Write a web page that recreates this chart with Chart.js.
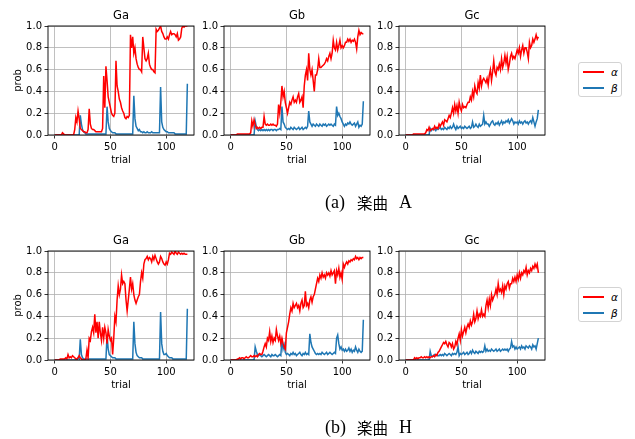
<!DOCTYPE html>
<html>
<head>
<meta charset="utf-8">
<script src="https://cdn.jsdelivr.net/npm/chart.js@4/dist/chart.umd.min.js"></script>
<style>
  body { margin: 0; background: #fff; width: 635px; height: 439px; position: relative; overflow: hidden; }
  canvas { position: absolute; }
  .legend { position: absolute; left: 578px; width: 44px; height: 35px; box-sizing: border-box;
            border: 1px solid #d3d3d3; border-radius: 3px; background: #fff; }
  .legend .ln { position: absolute; left: 4px; width: 21px; height: 1.5px; }
  .legend .tx { position: absolute; left: 32px; font: italic 10.5px "DejaVu Sans"; line-height: 12px; color: #000; }
  .cap { position: absolute; font-family: "Liberation Serif", "DejaVu Serif", serif; font-size: 18px; color: #000; line-height: 20px; }
  .cap.cjk { font-family: "Noto Sans CJK JP"; font-size: 15.5px; }
</style>
</head>
<body>
<canvas id="a-ga" width="200" height="175" style="left:0px;top:0px"></canvas>
<canvas id="a-gb" width="200" height="175" style="left:176px;top:0px"></canvas>
<canvas id="a-gc" width="200" height="175" style="left:351px;top:0px"></canvas>
<canvas id="h-ga" width="200" height="175" style="left:0px;top:225px"></canvas>
<canvas id="h-gb" width="200" height="175" style="left:176px;top:225px"></canvas>
<canvas id="h-gc" width="200" height="175" style="left:351px;top:225px"></canvas>

<div class="legend" style="top:62px">
  <div class="ln" style="top:8px;background:#ff0000"></div><div class="tx" style="top:3px">α</div>
  <div class="ln" style="top:24px;background:#1f77b4"></div><div class="tx" style="top:19px">β</div>
</div>
<div class="legend" style="top:287px">
  <div class="ln" style="top:8px;background:#ff0000"></div><div class="tx" style="top:3px">α</div>
  <div class="ln" style="top:24px;background:#1f77b4"></div><div class="tx" style="top:19px">β</div>
</div>

<span class="cap" style="left:325px;top:192px">(a)</span>
<span class="cap cjk" style="left:357px;top:192px">楽曲</span>
<span class="cap" style="left:399px;top:192px">A</span>
<span class="cap" style="left:325px;top:417px">(b)</span>
<span class="cap cjk" style="left:357px;top:417px">楽曲</span>
<span class="cap" style="left:399px;top:417px">H</span>

<script>
const trials = Array.from({length: 120}, (_, i) => i);
const xTicks = [0, 50, 100];
const yTicks = [0, 0.2, 0.4, 0.6, 0.8, 1.0];
const panelTitles = ['Ga', 'Gb', 'Gc'];
const seriesLabels = ['α', 'β'];
const seriesColors = ['#ff0000', '#1f77b4'];

// (a) 楽曲 A
const aGaAlpha = [
  0,0,0,0,0,0,0,0.02,0.01,0,
  0,0,0,0,0,0,0,0,0.05,0.16,
  0.12,0.22,0.15,0.06,0.05,0.04,0.03,0.03,0.02,0.02,
  0.05,0.24,0.1,0.06,0.05,0.05,0.04,0.03,0.03,0.03,
  0.03,0.03,0.03,0.06,0.54,0.25,0.63,0.5,0.35,0.3,
  0.25,0.2,0.18,0.17,0.2,0.68,0.45,0.4,0.33,0.3,
  0.25,0.22,0.2,0.16,0.15,0.17,0.16,0.18,0.92,0.8,
  0.9,0.75,0.8,0.7,0.65,0.62,0.6,0.6,0.58,0.9,
  0.8,0.7,0.68,0.7,0.75,0.65,0.62,0.6,0.6,0.58,
  0.57,0.97,0.95,0.96,0.98,1.0,0.95,0.93,0.9,0.88,
  0.88,0.9,0.88,0.92,0.95,0.92,0.93,0.93,0.92,0.9,
  0.93,0.87,0.88,0.9,0.98,1.0,0.99,1.0,1.0,1.0
];
const aGaBeta = [
  0,0,0,0,0,0,0,0,0,0,
  0,0,0,0,0,0,0,0,0,0,
  0,0,0,0.18,0.1,0.05,0.03,0.02,0.01,0.01,
  0.01,0.01,0.01,0.01,0.01,0.01,0.01,0.01,0.01,0.01,
  0.01,0.01,0.01,0.01,0.01,0.01,0.01,0.26,0.12,0.06,
  0.04,0.03,0.02,0.02,0.02,0.01,0.01,0.01,0.01,0.01,
  0.01,0.01,0.01,0.01,0.01,0.01,0.01,0.01,0.01,0.01,
  0.01,0.36,0.15,0.08,0.06,0.04,0.05,0.03,0.03,0.02,
  0.03,0.02,0.02,0.03,0.02,0.02,0.02,0.03,0.02,0.02,
  0.02,0.02,0.02,0.02,0.02,0.44,0.12,0.07,0.05,0.04,
  0.03,0.03,0.02,0.02,0.02,0.02,0.02,0.02,0.01,0.01,
  0.01,0.01,0.01,0.01,0.01,0.01,0.01,0.01,0.01,0.47
];
const aGbAlpha = [
  0,0,0,0,0,0,0.01,0.01,0.01,0.01,
  0.01,0.01,0.01,0.01,0.01,0.01,0.01,0.01,0.02,0.13,
  0.08,0.14,0.1,0.06,0.07,0.06,0.07,0.06,0.07,0.07,
  0.17,0.1,0.09,0.1,0.09,0.09,0.1,0.09,0.1,0.09,
  0.09,0.08,0.1,0.28,0.2,0.3,0.45,0.35,0.4,0.3,
  0.25,0.2,0.25,0.3,0.28,0.32,0.35,0.3,0.32,0.3,
  0.35,0.38,0.3,0.32,0.35,0.25,0.45,0.55,0.6,0.5,
  0.75,0.6,0.55,0.6,0.5,0.4,0.55,0.55,0.6,0.7,
  0.62,0.62,0.63,0.64,0.65,0.67,0.7,0.68,0.72,0.75,
  0.7,0.75,0.87,0.8,0.78,0.85,0.78,0.82,0.87,0.8,
  0.82,0.8,0.82,0.85,0.85,0.88,0.86,0.88,0.85,0.87,
  0.86,0.88,0.85,0.79,0.9,0.96,0.92,0.94,0.93,0.93
];
const aGbBeta = [
  0,0,0,0,0,0,0,0,0,0,
  0,0,0,0,0,0,0,0,0,0,
  0,0,0.13,0.08,0.05,0.04,0.05,0.04,0.05,0.04,
  0.05,0.04,0.05,0.04,0.05,0.04,0.05,0.05,0.04,0.05,
  0.05,0.04,0.05,0.05,0.06,0.05,0.26,0.12,0.1,0.07,
  0.06,0.05,0.06,0.05,0.07,0.06,0.05,0.07,0.06,0.05,
  0.06,0.07,0.05,0.06,0.07,0.05,0.06,0.07,0.06,0.08,
  0.22,0.12,0.1,0.08,0.1,0.09,0.08,0.1,0.09,0.08,
  0.1,0.09,0.08,0.1,0.09,0.1,0.08,0.09,0.1,0.09,
  0.1,0.09,0.08,0.1,0.09,0.26,0.18,0.2,0.17,0.15,
  0.12,0.1,0.08,0.1,0.09,0.11,0.1,0.12,0.1,0.09,
  0.1,0.11,0.08,0.1,0.12,0.07,0.09,0.08,0.1,0.31
];
const aGcAlpha = [
  0,0,0,0,0,0,0,0.01,0.01,0.01,
  0.01,0.01,0.01,0.01,0.01,0.01,0.01,0.01,0.02,0.05,
  0.04,0.07,0.04,0.05,0.06,0.05,0.08,0.06,0.07,0.06,
  0.1,0.08,0.1,0.12,0.09,0.14,0.13,0.12,0.15,0.18,
  0.16,0.2,0.25,0.2,0.28,0.22,0.27,0.2,0.3,0.25,
  0.22,0.28,0.25,0.26,0.25,0.28,0.3,0.3,0.35,0.32,
  0.4,0.35,0.45,0.4,0.38,0.48,0.43,0.55,0.45,0.5,
  0.52,0.5,0.48,0.52,0.46,0.55,0.6,0.5,0.58,0.68,
  0.58,0.55,0.62,0.6,0.65,0.6,0.7,0.62,0.66,0.73,
  0.66,0.72,0.6,0.65,0.72,0.75,0.7,0.72,0.7,0.74,
  0.78,0.75,0.8,0.72,0.78,0.82,0.75,0.8,0.8,0.76,
  0.7,0.85,0.8,0.82,0.88,0.85,0.88,0.92,0.88,0.9
];
const aGcBeta = [
  0,0,0,0,0,0,0,0,0,0,
  0,0,0,0,0,0,0,0,0,0,
  0,0,0.06,0.04,0.05,0.06,0.05,0.04,0.06,0.05,
  0.06,0.07,0.05,0.06,0.05,0.07,0.06,0.05,0.07,0.06,
  0.08,0.06,0.07,0.1,0.07,0.05,0.08,0.06,0.07,0.08,
  0.06,0.07,0.06,0.08,0.07,0.06,0.07,0.08,0.06,0.07,
  0.12,0.07,0.08,0.1,0.08,0.07,0.1,0.08,0.09,0.1,
  0.18,0.1,0.12,0.1,0.1,0.08,0.1,0.12,0.13,0.1,
  0.09,0.11,0.1,0.12,0.09,0.11,0.13,0.1,0.12,0.11,
  0.13,0.12,0.14,0.11,0.13,0.15,0.13,0.1,0.12,0.11,
  0.12,0.1,0.13,0.11,0.12,0.1,0.12,0.13,0.11,0.12,
  0.1,0.12,0.13,0.11,0.16,0.12,0.08,0.12,0.15,0.23
];

// (b) 楽曲 H
const hGaAlpha = [
  0,0,0,0,0,0.01,0.01,0.01,0.01,0.01,
  0.02,0.01,0.05,0.02,0.03,0.02,0.04,0.03,0.02,0.01,
  0.01,0.02,0.04,0.02,0.01,0,0,0,0.01,0.09,
  0.02,0.2,0.18,0.26,0.3,0.25,0.42,0.25,0.35,0.2,
  0.35,0.25,0.18,0.3,0.2,0.3,0.25,0.15,0.28,0.22,
  0.18,0.2,0.05,0.2,0.4,0.35,0.55,0.68,0.6,0.65,
  0.78,0.7,0.72,0.7,0.55,0.45,0.55,0.65,0.76,0.65,
  0.7,0.6,0.55,0.52,0.55,0.58,0.6,0.72,0.8,0.75,
  0.88,0.92,0.93,0.95,0.92,0.94,0.93,0.9,0.95,0.92,
  0.96,0.93,0.9,0.88,0.9,0.95,0.93,0.9,0.88,0.87,
  0.9,0.88,0.92,0.98,0.97,0.99,0.98,0.97,1.0,0.98,
  0.97,0.99,0.98,0.97,0.98,0.97,0.98,0.97,0.97,0.97
];
const hGaBeta = [
  0,0,0,0,0,0,0,0,0,0,
  0,0,0,0,0,0,0,0,0,0,
  0,0.02,0.01,0.19,0.05,0.02,0.01,0.01,0.01,0.01,
  0.01,0.01,0.01,0.01,0.01,0.01,0.01,0.01,0.01,0.01,
  0.01,0.01,0.01,0.01,0.01,0.01,0.01,0.23,0.1,0.05,
  0.04,0.03,0.02,0.02,0.02,0.01,0.01,0.01,0.01,0.01,
  0.01,0.01,0.01,0.01,0.01,0.01,0.01,0.01,0.01,0.01,
  0.01,0.35,0.15,0.07,0.04,0.03,0.02,0.02,0.02,0.01,
  0.01,0.01,0.01,0.01,0.01,0.01,0.01,0.01,0.01,0.01,
  0.01,0.01,0.01,0.01,0.01,0.44,0.15,0.08,0.05,0.05,
  0.06,0.04,0.03,0.02,0.02,0.02,0.01,0.01,0.01,0.01,
  0.01,0.01,0.01,0.01,0.01,0.01,0.01,0.01,0.01,0.47
];
const hGbAlpha = [
  0,0,0,0,0,0,0.01,0.01,0.02,0.01,
  0.02,0.02,0.01,0.02,0.03,0.02,0.02,0.03,0.04,0.03,
  0.03,0.04,0.03,0.04,0.03,0.05,0.06,0.05,0.05,0.08,
  0.12,0.15,0.12,0.2,0.18,0.26,0.17,0.22,0.16,0.2,
  0.18,0.28,0.22,0.18,0.22,0.15,0.2,0.15,0.12,0.1,
  0.25,0.3,0.35,0.42,0.48,0.45,0.52,0.48,0.5,0.52,
  0.48,0.5,0.45,0.52,0.55,0.48,0.5,0.63,0.5,0.52,
  0.48,0.55,0.58,0.53,0.58,0.6,0.65,0.7,0.75,0.72,
  0.78,0.75,0.8,0.76,0.78,0.75,0.8,0.78,0.8,0.77,
  0.82,0.78,0.8,0.82,0.7,0.82,0.78,0.84,0.76,0.8,
  0.74,0.88,0.85,0.88,0.9,0.88,0.91,0.9,0.92,0.91,
  0.93,0.92,0.95,0.93,0.94,0.92,0.94,0.93,0.94,0.94
];
const hGbBeta = [
  0,0,0,0,0,0,0,0,0,0,
  0,0,0,0,0,0,0,0,0,0,
  0,0,0.12,0.08,0.05,0.04,0.05,0.04,0.03,0.04,
  0.05,0.04,0.03,0.04,0.05,0.04,0.03,0.05,0.04,0.04,
  0.05,0.04,0.03,0.04,0.05,0.04,0.2,0.1,0.14,0.07,
  0.05,0.06,0.05,0.04,0.06,0.05,0.07,0.05,0.06,0.04,
  0.05,0.06,0.07,0.05,0.04,0.06,0.05,0.07,0.05,0.06,
  0.05,0.24,0.16,0.12,0.1,0.08,0.06,0.05,0.06,0.05,
  0.06,0.05,0.07,0.06,0.05,0.06,0.07,0.05,0.06,0.07,
  0.06,0.05,0.06,0.07,0.06,0.2,0.23,0.15,0.1,0.12,
  0.09,0.1,0.08,0.1,0.08,0.09,0.11,0.08,0.1,0.07,
  0.09,0.08,0.12,0.09,0.07,0.1,0.08,0.07,0.08,0.37
];
const hGcAlpha = [
  0,0,0,0,0,0,0,0,0.02,0.01,
  0.02,0.01,0.02,0.02,0.03,0.02,0.02,0.03,0.02,0.03,
  0.02,0.03,0.02,0.03,0.03,0.04,0.03,0.05,0.04,0.07,
  0.08,0.1,0.12,0.14,0.16,0.15,0.17,0.14,0.12,0.16,
  0.15,0.12,0.15,0.1,0.12,0.17,0.14,0.2,0.24,0.18,
  0.28,0.22,0.26,0.3,0.25,0.3,0.33,0.3,0.36,0.32,
  0.35,0.42,0.35,0.38,0.45,0.38,0.42,0.4,0.46,0.4,
  0.42,0.4,0.5,0.55,0.48,0.56,0.5,0.6,0.55,0.58,
  0.6,0.65,0.6,0.7,0.63,0.65,0.62,0.68,0.6,0.68,
  0.65,0.7,0.72,0.66,0.7,0.7,0.75,0.72,0.76,0.72,
  0.78,0.74,0.8,0.75,0.8,0.78,0.82,0.8,0.85,0.78,
  0.82,0.8,0.84,0.82,0.86,0.84,0.88,0.85,0.88,0.8
];
const hGcBeta = [
  0,0,0,0,0,0,0,0,0,0,
  0,0,0,0,0,0,0,0,0,0,
  0,0,0.08,0.04,0.03,0.04,0.05,0.04,0.05,0.04,
  0.04,0.05,0.04,0.05,0.04,0.06,0.05,0.04,0.05,0.06,
  0.05,0.04,0.06,0.05,0.06,0.05,0.07,0.12,0.04,0.06,
  0.05,0.06,0.07,0.05,0.06,0.07,0.05,0.06,0.08,0.06,
  0.09,0.07,0.06,0.08,0.07,0.06,0.08,0.07,0.08,0.07,
  0.08,0.13,0.08,0.1,0.08,0.09,0.08,0.1,0.09,0.08,
  0.09,0.1,0.08,0.09,0.1,0.08,0.09,0.1,0.09,0.1,
  0.09,0.1,0.08,0.1,0.11,0.17,0.12,0.13,0.1,0.12,
  0.1,0.11,0.12,0.1,0.13,0.11,0.12,0.1,0.13,0.12,
  0.11,0.13,0.12,0.1,0.14,0.12,0.13,0.1,0.15,0.2
];

Chart.defaults.font.family = '"DejaVu Sans"';
Chart.defaults.color = '#000';

// axes frame + panel title (matplotlib style)
const framePlugin = {
  id: 'frame',
  afterDatasetsDraw(chart, args, opts) {
    const {ctx, chartArea: a} = chart;
    ctx.save();
    ctx.strokeStyle = '#000';
    ctx.lineWidth = 0.9;
    ctx.strokeRect(a.left, a.top, a.right - a.left, a.bottom - a.top);
    ctx.fillStyle = '#000';
    ctx.font = '11.5px "DejaVu Sans"';
    ctx.textAlign = 'center';
    ctx.textBaseline = 'middle';
    ctx.fillText(opts.text, (a.left + a.right) / 2, a.top - 10);
    ctx.restore();
  }
};

function makePanel(id, title, alpha, beta, showYLabel) {
  const series = [alpha, beta];
  new Chart(document.getElementById(id), {
    type: 'line',
    data: {
      datasets: series.map((s, k) => ({
        label: seriesLabels[k],
        data: trials.map((t, i) => ({x: t, y: s[i]})),
        borderColor: seriesColors[k],
        borderWidth: 1.5,
        pointRadius: 0,
        tension: 0,
      }))
    },
    options: {
      responsive: false,
      animation: false,
      events: [],
      layout: {padding: {top: 26, right: 6, left: 0, bottom: 0}},
      plugins: {legend: {display: false}, tooltip: {enabled: false}, frame: {text: title}},
      scales: {
        x: {
          type: 'linear',
          min: -5.95,
          max: 124.95,
          afterBuildTicks: axis => { axis.ticks = xTicks.map(v => ({value: v})); },
          afterFit: s => { s.height = 40; },
          ticks: {font: {size: 10}, padding: 2.5, maxRotation: 0, callback: v => String(v)},
          grid: {color: '#b0b0b0', lineWidth: 0.8, tickColor: '#000', tickLength: 3.5},
          border: {display: false},
          title: {display: true, text: 'trial', font: {size: 10}, padding: {top: 0, bottom: 9}},
        },
        y: {
          min: 0,
          max: 1,
          afterBuildTicks: axis => { axis.ticks = yTicks.map(v => ({value: v})); },
          afterFit: s => { s.width = 48; },
          ticks: {font: {size: 10}, padding: 2.5, callback: v => v.toFixed(1)},
          grid: {color: '#b0b0b0', lineWidth: 0.8, tickColor: '#000', tickLength: 3.5},
          border: {display: false},
          title: {display: showYLabel, text: 'prob', font: {size: 10}, padding: {top: 12, bottom: 0}},
        }
      }
    },
    plugins: [framePlugin]
  });
}

makePanel('a-ga', panelTitles[0], aGaAlpha, aGaBeta, true);
makePanel('a-gb', panelTitles[1], aGbAlpha, aGbBeta, false);
makePanel('a-gc', panelTitles[2], aGcAlpha, aGcBeta, false);
makePanel('h-ga', panelTitles[0], hGaAlpha, hGaBeta, true);
makePanel('h-gb', panelTitles[1], hGbAlpha, hGbBeta, false);
makePanel('h-gc', panelTitles[2], hGcAlpha, hGcBeta, false);
</script>
</body>
</html>
